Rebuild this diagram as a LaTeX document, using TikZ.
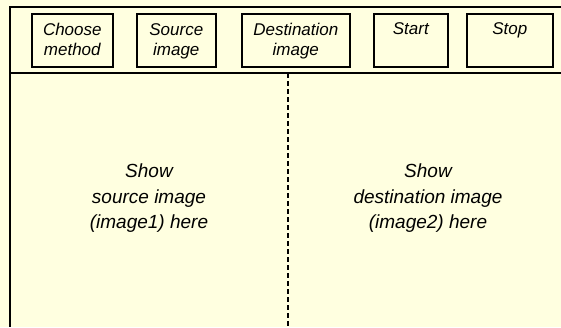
\documentclass[tikz,border=0pt]{standalone}
\usepackage{fontspec}
\setmainfont{Liberation Sans}
\definecolor{paper}{RGB}{255,255,224}
\begin{document}
\begin{tikzpicture}[x=1pt,y=-1pt,
  button/.style={draw=black,line width=1.6pt,anchor=north west,inner sep=0pt,
    minimum height=53pt},
  btntext/.style={anchor=base,inner sep=0pt,font=\itshape\fontsize{17}{20}\selectfont},
  bigtext/.style={anchor=base,inner sep=0pt,font=\itshape\fontsize{19}{25}\selectfont},
  frame/.style={line width=1.8pt}]
  \fill[paper] (0,0) rectangle (561,327);
  \useasboundingbox (0,0) rectangle (561,327);
  % window frame and toolbar separator
  \coordinate (tl) at (10,7);
  \coordinate (tr) at (561,7);
  \coordinate (bl) at (10,327);
  \coordinate (sl) at (10,73);
  \coordinate (sr) at (561,73);
  \coordinate (dt) at (288,73);
  \coordinate (db) at (288,327);
  \draw[frame] (tr) -- (tl) -- (bl);
  \draw[frame] (sl) -- (sr);
  \draw[line width=1.8pt,dash pattern=on 5pt off 3pt] (dt) -- (db);
  % toolbar buttons (labels sit at the top of each button)
  \node[button,minimum width=81pt] (choose) at (31,13) {};
  \node[btntext] at ([yshift=-22pt]choose.north) {Choose};
  \node[btntext] at ([yshift=-42pt]choose.north) {method};
  \node[button,minimum width=79pt] (source) at (136,13) {};
  \node[btntext] at ([yshift=-22pt]source.north) {Source};
  \node[btntext] at ([yshift=-42pt]source.north) {image};
  \node[button,minimum width=108pt] (dest) at (241,13) {};
  \node[btntext] at ([yshift=-22pt]dest.north) {Destination};
  \node[btntext] at ([yshift=-42pt]dest.north) {image};
  \node[button,minimum width=74pt] (start) at (373,13) {};
  \node[btntext] at ([yshift=-21pt]start.north) {Start};
  \node[button,minimum width=86pt] (stop) at (466,13) {};
  \node[btntext] at ([yshift=-21pt]stop.north) {Stop};
  % image areas
  \coordinate (lc) at (149,0);
  \coordinate (rc) at (428,0);
  \node[bigtext] at (lc |- 0,177) {Show};
  \node[bigtext] at (lc |- 0,203) {source image};
  \node[bigtext] at (lc |- 0,228.5) {(image1) here};
  \node[bigtext] at (rc |- 0,177) {Show};
  \node[bigtext] at (rc |- 0,203) {destination image};
  \node[bigtext] at (rc |- 0,228.5) {(image2) here};
\end{tikzpicture}
\end{document}
